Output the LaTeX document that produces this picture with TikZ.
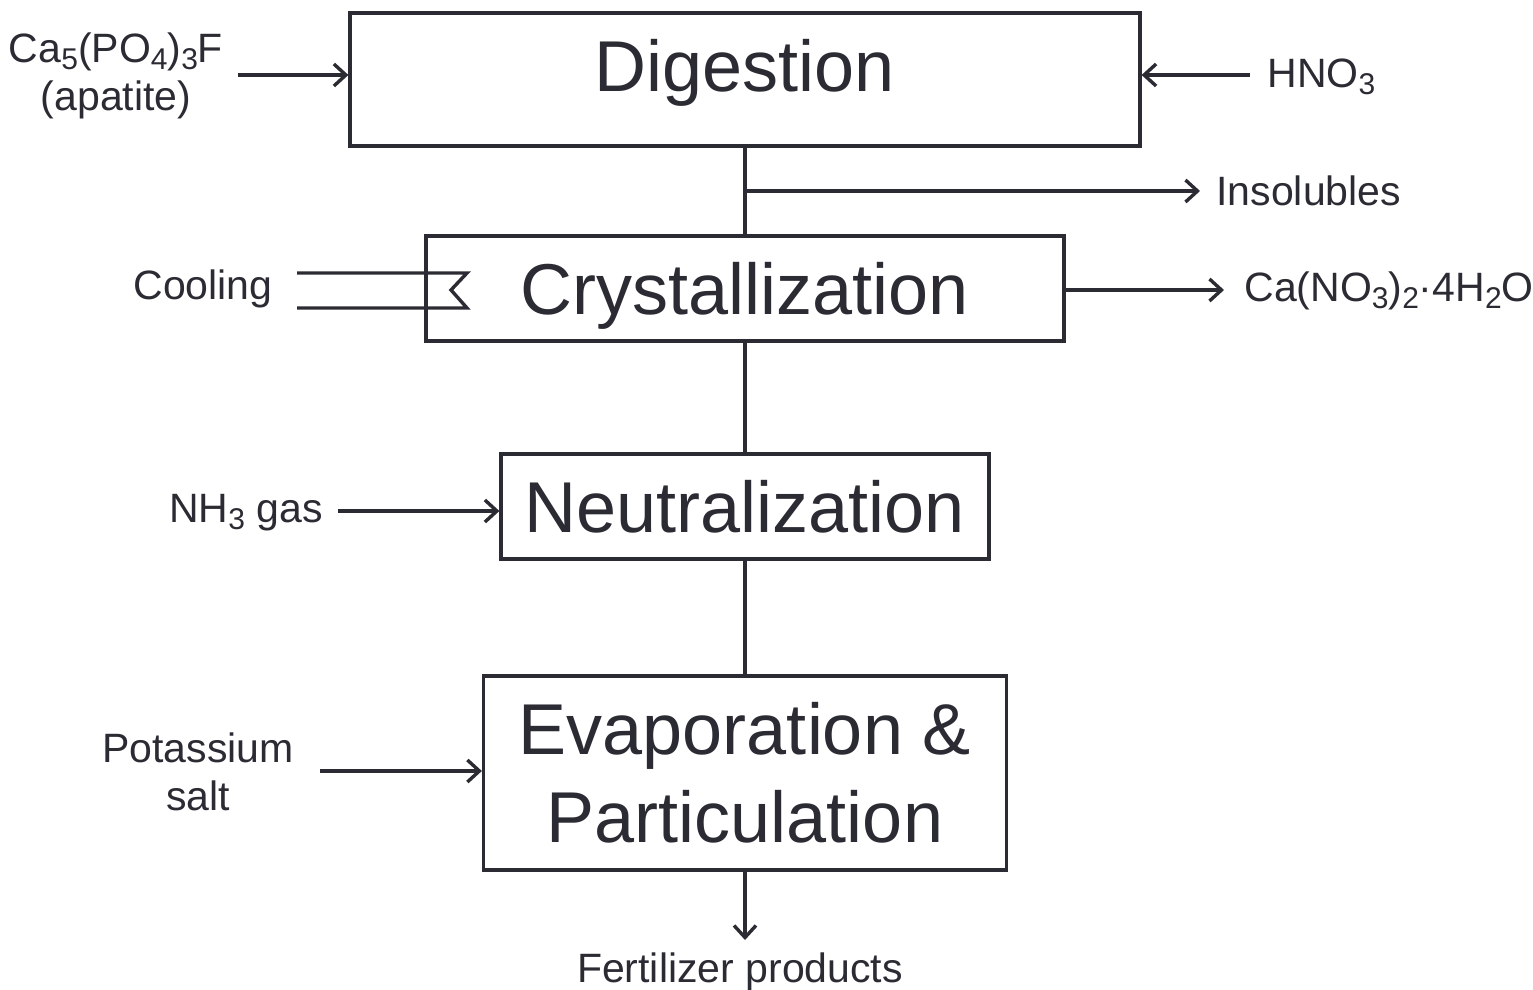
\documentclass[tikz,border=0pt]{standalone}
\usepackage{fontspec}
\setmainfont{Liberation Sans}
\usetikzlibrary{arrows.meta}
\definecolor{ink}{HTML}{2B2B33}
\newcommand{\chemsub}[1]{\raisebox{-0.32ex}{\fontsize{15}{15}\selectfont #1}}
\begin{document}
\begin{tikzpicture}[x=0.5pt,y=-0.5pt]
	\tikzstyle{unit}=[rectangle,draw=ink,line width=1.6pt,inner sep=0pt,text=ink,font=\fontsize{36}{44}\selectfont,align=center]
	\tikzstyle{stream}=[text=ink,font=\fontsize{20.5}{24}\selectfont,inner sep=0pt,align=center]
	\tikzstyle{edge}=[draw=ink,line width=1.7pt,-{Straight Barb[length=6pt,width=11pt,line width=1.7pt]}]
	\tikzstyle{pipe}=[draw=ink,line width=1.7pt]
	\useasboundingbox (0,0) rectangle (1533,990);
	\begin{scope}
		% process units
		\node [unit,minimum width=395pt,minimum height=66.5pt] (dig) at (745,79.5) {\raisebox{3.5pt}[\height][\depth]{Digestion}};
		\node [unit,minimum width=319pt,minimum height=52.5pt] (cry) at (745,288.5) {\raisebox{-3.5pt}[\height][\depth]{Crystallization}};
		\node [unit,minimum width=244pt,minimum height=52.5pt] (neu) at (745,506.5) {Neutralization};
		\node [unit,minimum width=261.5pt,minimum height=97pt] (eva) at (745,773) {Evaporation \&\\Particulation};
		% streams
		\node [stream] (apa) at (116,76) {Ca\chemsub{5}(PO\chemsub{4})\chemsub{3}F\\(apatite)};
		\node [stream,anchor=west] (hno) at (1267,77) {HNO\chemsub{3}};
		\node [stream,anchor=west] (ins) at (1216,191) {Insolubles};
		\node [stream,anchor=west] (can) at (1244,291) {Ca(NO\chemsub{3})\chemsub{2}·4H\chemsub{2}O};
		\node [stream,anchor=east] (coo) at (273,289) {Cooling};
		\node [stream,anchor=east] (nh3) at (323,513) {NH\chemsub{3} gas};
		\node [stream] (pot) at (198,772) {Potassium\\salt};
		\node [stream] (fer) at (740,972) {Fertilizer products};
		\coordinate (a1) at (238,75);
		\coordinate (h1) at (1250,75);
		\coordinate (j1) at (745,191);
		\coordinate (i1) at (1200,191);
		\coordinate (c1) at (1224,290);
		\coordinate (n1) at (338,511);
		\coordinate (p1) at (320,771);
		\coordinate (f1) at (745,940);
		% connectors
		\path[pipe] (dig) -- (cry);
		\path[pipe] (cry) -- (neu);
		\path[pipe] (neu) -- (eva);
		\path[edge] (a1) -- (a1 -| dig.west);
		\path[edge] (h1) -- (h1 -| dig.east);
		\path[edge] (j1) -- (i1);
		\path[edge] (c1 -| cry.east) -- (c1);
		\path[edge] (n1) -- (n1 -| neu.west);
		\path[edge] (p1) -- (p1 -| eva.west);
		\path[edge] (eva) -- (f1);
		% cooling coil
		\path[pipe] (297,273) -- (467,273) -- (451,290) -- (467,308) -- (297,308);
	\end{scope}
\end{tikzpicture}
\end{document}
